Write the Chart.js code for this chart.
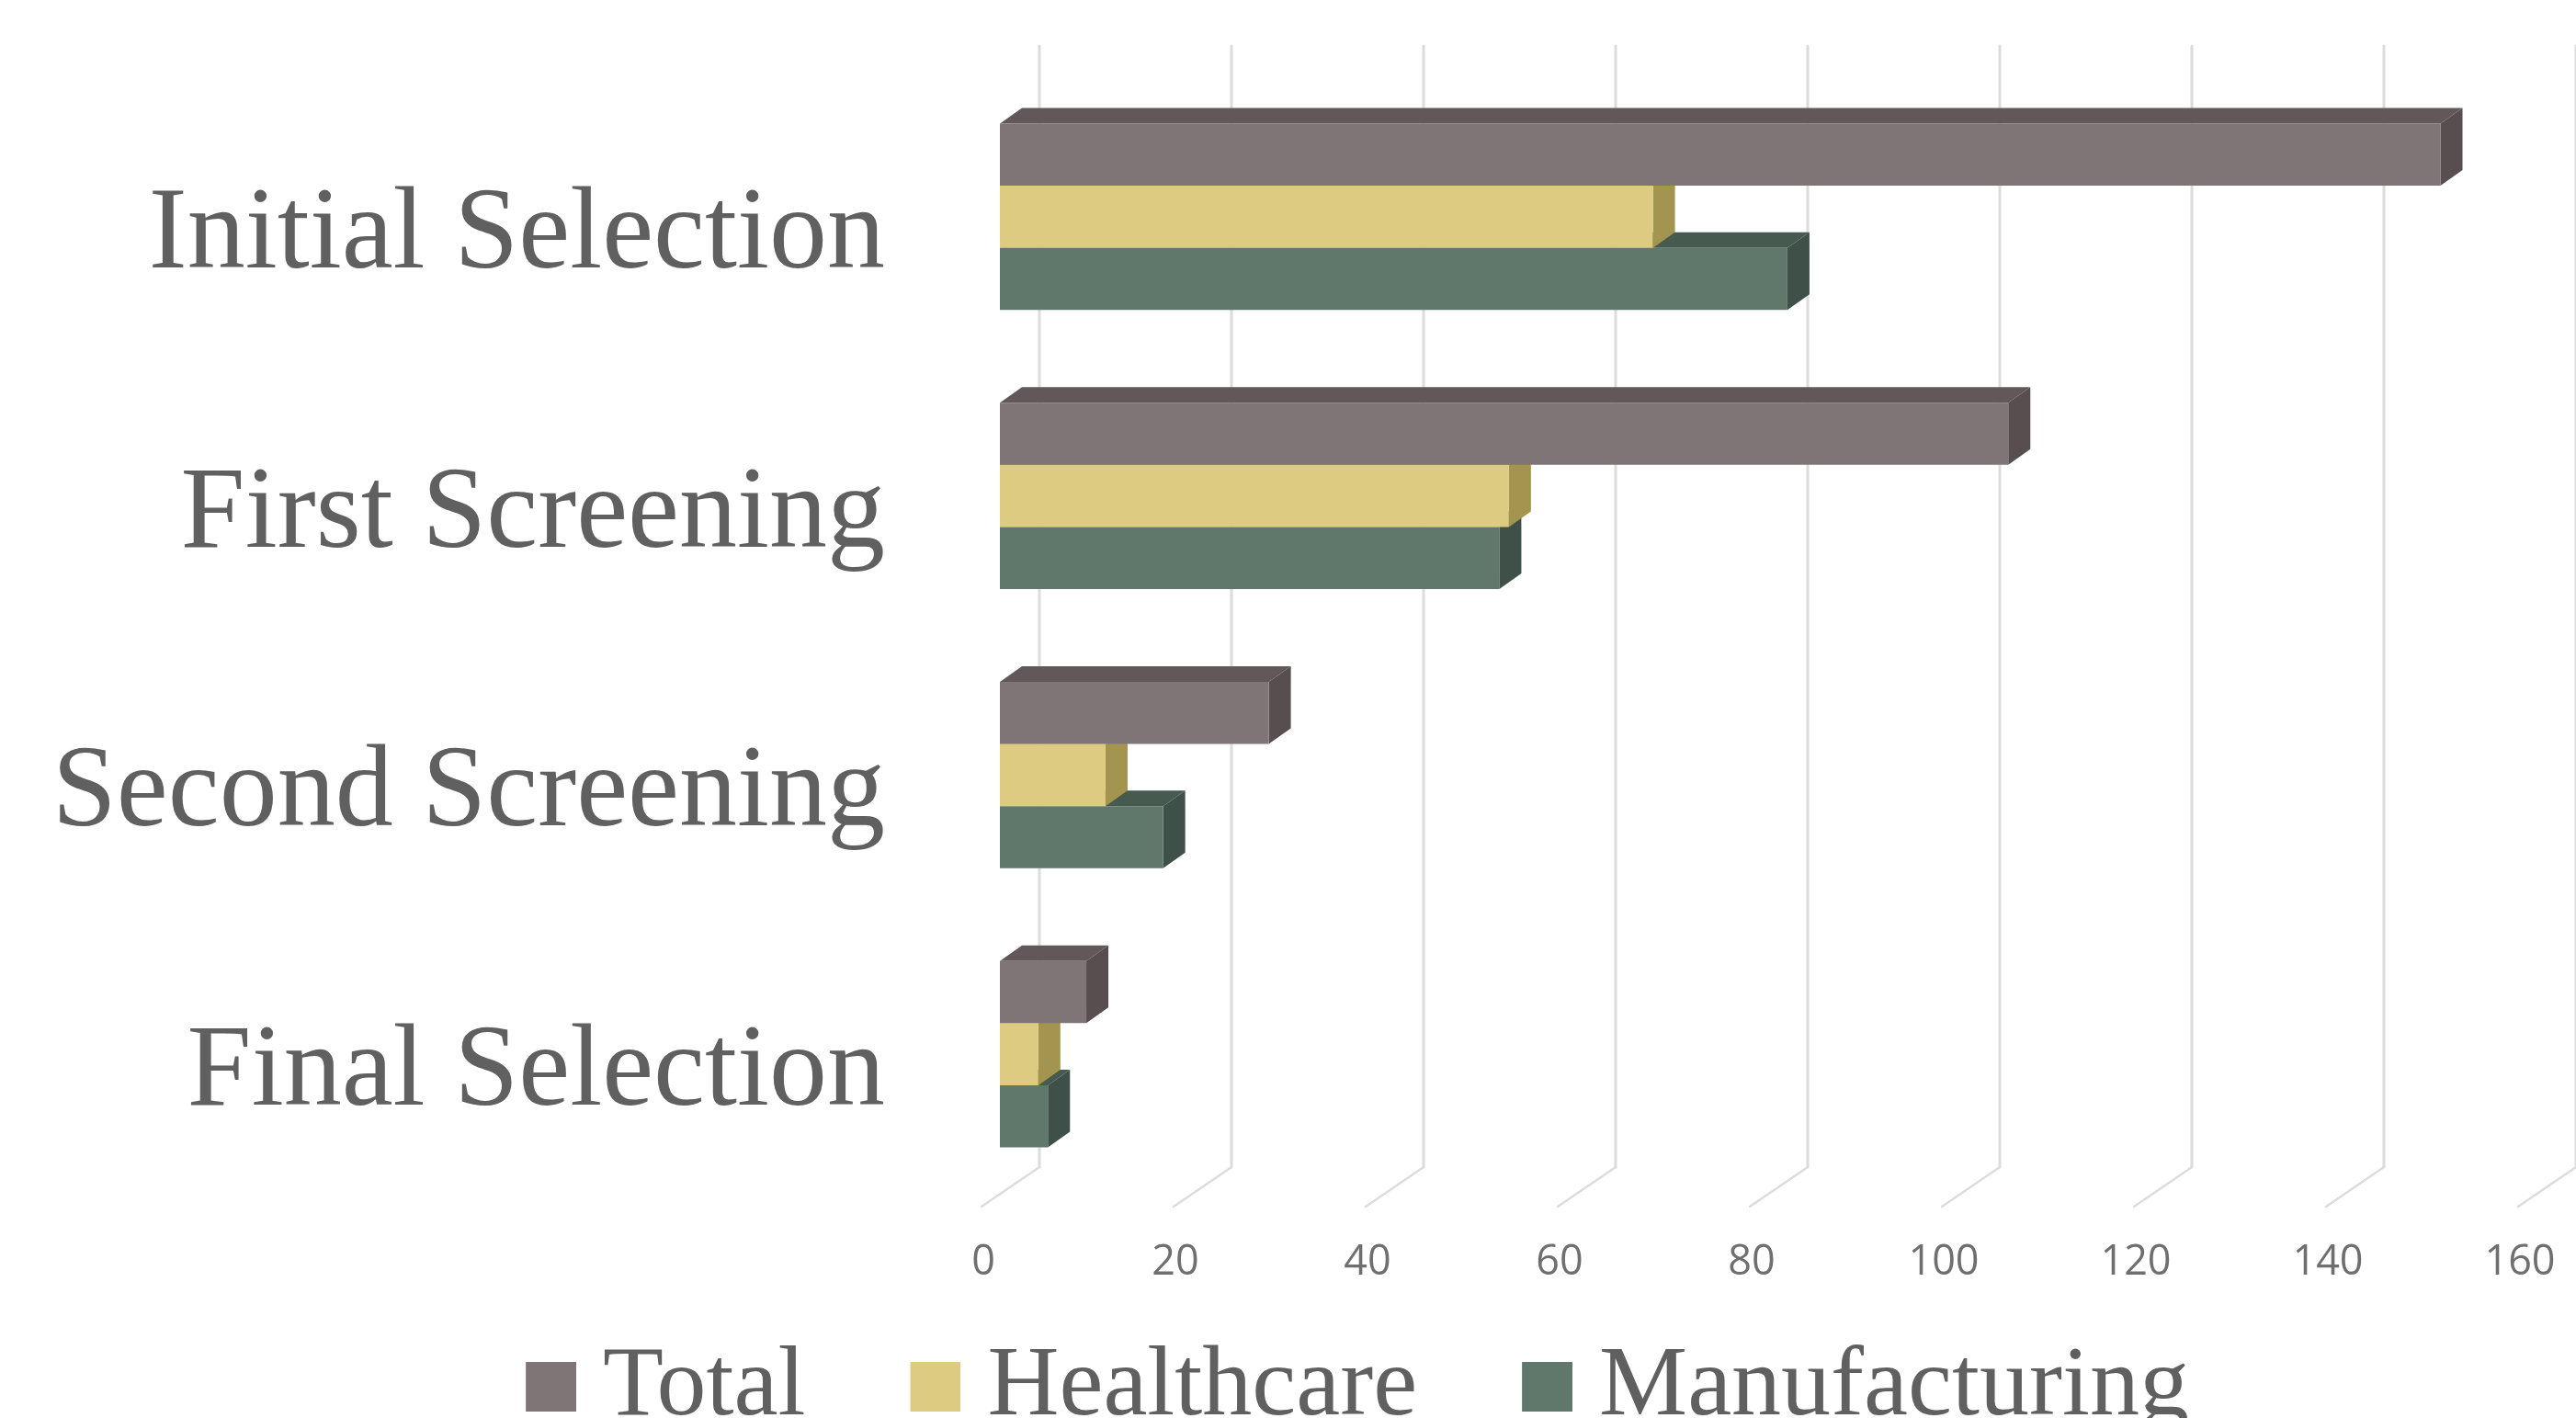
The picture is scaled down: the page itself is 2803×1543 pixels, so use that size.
<!DOCTYPE html>
<html>
<head>
<meta charset="utf-8">
<style>
html,body{margin:0;padding:0;background:#fff}
#wrap{width:2803px;height:1543px;position:relative}
</style>
<script src="https://cdn.jsdelivr.net/npm/chart.js@4/dist/chart.umd.min.js"></script>
</head>
<body>
<div id="wrap"><canvas id="c"></canvas></div>
<script>
const categories = ["Initial Selection", "First Screening", "Second Screening", "Final Selection"];
const seriesNames = ["Total", "Healthcare", "Manufacturing"];
const total = [150, 105, 28, 9];
const healthcare = [68, 53, 11, 4];
const manufacturing = [82, 52, 17, 5];
const frontColors = ["#7f7576", "#dccb80", "#60786c"];
const topColors = ["#625859", "#a89a58", "#465a50"];
const sideColors = ["#584e4f", "#a3944f", "#3e5047"];

const DX = 24, DY = 17;            // bar depth projection
const WALL_DX = 43, FLOOR_DX = 20, FLOOR_DY = 43;
const GRID_TOP = 50, GRID_BOTTOM = 1270;

function marker(color) {
  const m = document.createElement('canvas');
  m.width = 80; m.height = 110;
  const g = m.getContext('2d');
  g.fillStyle = color;
  g.fillRect(25, 26, 55, 54);
  return m;
}
const markers = frontColors.map(marker);

function poly(ctx, pts, color) {
  ctx.fillStyle = color;
  ctx.beginPath();
  pts.forEach((p, i) => i ? ctx.lineTo(p[0], p[1]) : ctx.moveTo(p[0], p[1]));
  ctx.closePath();
  ctx.fill();
}

const depthPlugin = {
  id: 'depth',
  afterLayout(chart) {
    const l = chart.legend;
    l.left += 97; l.right += 97;
    l.top = 1343;
  },
  beforeDatasetsDraw(chart) {
    const ctx = chart.ctx, x = chart.scales.x;
    ctx.save();
    ctx.lineCap = 'round';
    x.ticks.forEach(t => {
      const px = x.getPixelForValue(t.value);
      ctx.strokeStyle = '#dcdcdc';
      ctx.lineWidth = 3;
      ctx.beginPath();
      ctx.moveTo(px + WALL_DX, GRID_TOP);
      ctx.lineTo(px + WALL_DX, GRID_BOTTOM);
      ctx.stroke();
      ctx.lineWidth = 2.5;
      ctx.beginPath();
      ctx.moveTo(px + WALL_DX, GRID_BOTTOM);
      ctx.lineTo(px - FLOOR_DX, GRID_BOTTOM + FLOOR_DY);
      ctx.stroke();
    });
    ctx.restore();
  },
  beforeDatasetDraw(chart, args) {
    const ctx = chart.ctx, i = args.index;
    args.meta.data.forEach(b => {
      const t = b.y - b.height / 2, bt = b.y + b.height / 2;
      poly(ctx, [[b.base, t], [b.base + DX, t - DY], [b.x + DX, t - DY], [b.x, t]], topColors[i]);
      poly(ctx, [[b.x, t], [b.x + DX, t - DY], [b.x + DX, bt - DY], [b.x, bt]], sideColors[i]);
    });
  }
};

function zeroPad(s) {
  s.paddingLeft = 0; s.paddingRight = 0; s.paddingTop = 0; s.paddingBottom = 0;
}

const seriesValues = [total, healthcare, manufacturing];
new Chart(document.getElementById('c'), {
  type: 'bar',
  plugins: [depthPlugin],
  data: {
    labels: categories,
    datasets: seriesNames.map((n, i) => ({
      label: n,
      data: seriesValues[i],
      backgroundColor: frontColors[i],
      borderWidth: 0,
      categoryPercentage: 0.668,
      barPercentage: 1
    }))
  },
  options: {
    indexAxis: 'y',
    responsive: true,
    maintainAspectRatio: false,
    animation: false,
    layout: { padding: { top: 84, right: 43, bottom: -109, left: 0 } },
    scales: {
      x: {
        min: 0, max: 160,
        afterFit: s => { s.height = 121; zeroPad(s); },
        grid: { display: false, drawTicks: false },
        border: { display: false },
        ticks: {
          stepSize: 20, maxRotation: 0, autoSkip: false,
          labelOffset: -18, padding: 48,
          color: '#6f6f6f',
          font: { family: '"Open Sans"', size: 45 }
        }
      },
      y: {
        afterFit: s => { s.width = 1088; zeroPad(s); },
        grid: { display: false, drawTicks: false },
        border: { display: false },
        ticks: {
          padding: 125, labelOffset: 22, autoSkip: false,
          color: '#606060',
          font: { family: '"Liberation Serif"', size: 126 }
        }
      }
    },
    plugins: {
      tooltip: { enabled: false },
      legend: {
        position: 'bottom',
        labels: {
          usePointStyle: true,
          pointStyleWidth: 30,
          padding: 114,
          color: '#606060',
          font: { family: '"Liberation Serif"', size: 108, lineHeight: 1 },
          generateLabels: () => seriesNames.map((n, i) => ({
            text: n, pointStyle: markers[i], fillStyle: frontColors[i],
            strokeStyle: frontColors[i], lineWidth: 0, fontColor: '#606060',
            datasetIndex: i, hidden: false
          }))
        }
      }
    }
  }
});
</script>
</body>
</html>
